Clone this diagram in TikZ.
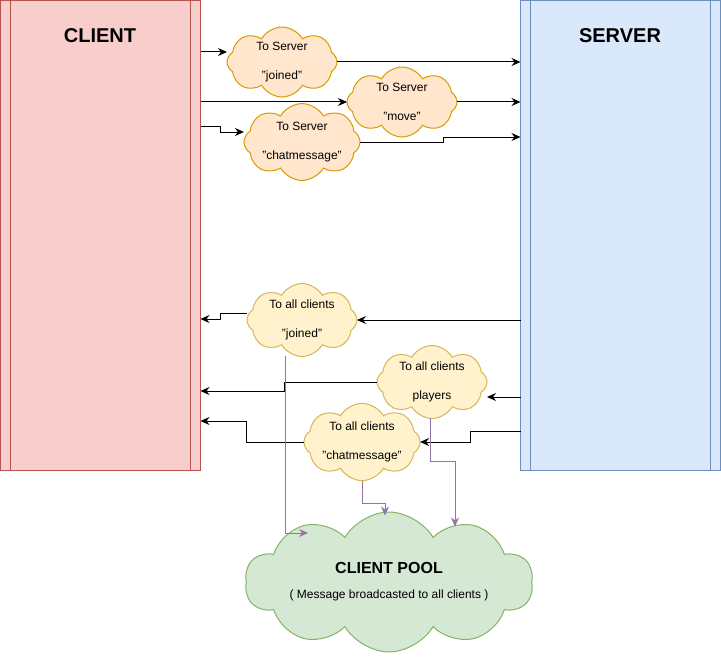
\documentclass[tikz,border=0pt]{standalone}
\usepackage{fontspec}
\setmainfont{Liberation Sans}
\usetikzlibrary{shapes.symbols, arrows.meta, positioning}

\definecolor{clientfill}{HTML}{F8CECC}
\definecolor{clientline}{HTML}{B85450}
\definecolor{serverfill}{HTML}{DAE8FC}
\definecolor{serverline}{HTML}{6C8EBF}
\definecolor{orangefill}{HTML}{FFE6CC}
\definecolor{orangeline}{HTML}{D79B00}
\definecolor{yellowfill}{HTML}{FFF2CC}
\definecolor{yellowline}{HTML}{D6B656}
\definecolor{poolfill}{HTML}{D5E8D4}
\definecolor{poolline}{HTML}{82B366}
\definecolor{poollink}{HTML}{9673A6}

\begin{document}
\begin{tikzpicture}[x=1pt, y=-1pt, font=\fontsize{12}{14}\selectfont,
    side/.style={draw, line width=1pt, minimum width=200pt, minimum height=470pt, outer sep=0pt},
    title/.style={font=\fontsize{20}{24}\selectfont\bfseries},
    bubble/.style={cloud, cloud puffs=8, cloud puff arc=120, cloud ignores aspect, draw, line width=1pt,
        minimum width=110pt, minimum height=70pt, align=center, inner sep=0pt, outer sep=0pt},
    tosrv/.style={bubble, fill=orangefill, draw=orangeline},
    toall/.style={bubble, fill=yellowfill, draw=yellowline},
    msg/.style={-{Stealth[length=9pt, width=8pt, inset=3pt]}, line width=1pt},
    pool link/.style={msg, draw=poollink}]

    \useasboundingbox (0,0) rectangle (721,661);

    % Client and server
    \node[side, fill=clientfill, draw=clientline] (client) at (100.5,235.5) {};
    \node[side, fill=serverfill, draw=serverline] (server) at (620.5,235.5) {};
    \foreach \b/\c in {client/clientline, server/serverline} {
        \draw[\c, line width=1pt] ([xshift=10pt]\b.north west) -- ([xshift=10pt]\b.south west);
        \draw[\c, line width=1pt] ([xshift=-10pt]\b.north east) -- ([xshift=-10pt]\b.south east);
    }
    \node[title] (clienttitle) at (100,36) {CLIENT};
    \node[title] (servertitle) at (620,36) {SERVER};

    % Messages to the server
    \node[tosrv] (joinsrv) at (282,62) {To Server\\[15pt]"joined"};
    \node[tosrv] (movesrv) at (402,102) {To Server\\[15pt]"move"};
    \node[tosrv] (chatsrv) at (302,142) {To Server\\[15pt]"chatmessage"};

    % Messages to all clients
    \node[toall] (joinall) at (302,320) {To all clients\\[15pt]"joined"};
    \node[toall] (playersall) at (432,382) {To all clients\\[15pt]players};
    \node[toall] (chatall) at (362,442) {To all clients\\[15pt]"chatmessage"};

    % Client pool
    \node[cloud, cloud puffs=10, cloud puff arc=120, cloud ignores aspect, draw=poolline, fill=poolfill,
        line width=1pt, minimum width=288pt, minimum height=140pt, align=center, inner sep=0pt] (pool) at (389,582)
        {{\fontsize{16}{19}\selectfont\bfseries CLIENT POOL}\\[11pt]( Message broadcasted to all clients )};

    % Client -> server
    \draw[msg] (client.east |- 0,52) -- (joinsrv.west |- 0,52);
    \draw[msg] (joinsrv.east) -- (joinsrv.east -| server.west);
    \draw[msg] (client.east |- movesrv.west) -- (movesrv.west);
    \draw[msg] (movesrv.east) -- (movesrv.east -| server.west);
    \draw[msg] (client.east |- 0,127) -- (220,127) |- (chatsrv.west |- 0,132);
    \draw[msg] (chatsrv.east) -- ++(83,0) |- (server.west |- 0,137);

    % Server -> client
    \draw[msg] (server.west |- joinall.east) -- (joinall.east);
    \draw[msg] (joinall.west |- 0,313) -- (220,313) |- (client.east |- 0,319);
    \draw[msg] (server.west |- 0,397) -- (playersall.east |- 0,397);
    \draw[msg] (playersall.west) -- ++(-93,0) |- (client.east |- 0,391);
    \draw[msg] (server.west |- 0,431) -- (470,431) |- (chatall.east);
    \draw[msg] (chatall.west) -- ++(-57,0) |- (client.east |- 0,421);

    % Broadcast
    \draw[pool link] ([xshift=-17pt]joinall.south) |- ([xshift=-81pt, yshift=49pt]pool.center);
    \draw[pool link] (chatall.south) -- ++(0,23) -| ([xshift=-4pt, yshift=-4pt]pool.north);
    \draw[pool link] ([xshift=-2pt]playersall.south) -- ++(0,43) -| ([xshift=66pt, yshift=-15pt]pool.north);

\end{tikzpicture}
\end{document}
